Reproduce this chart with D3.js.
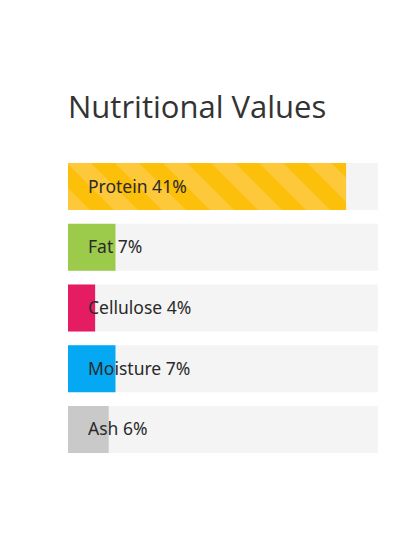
<!DOCTYPE html>
<html><head><meta charset="utf-8">
<script src="https://cdn.jsdelivr.net/npm/d3@7"></script>
<style>body{margin:0;background:#fff}</style>
</head><body>
<script>
const categories = ["Protein", "Fat", "Cellulose", "Moisture", "Ash"];
const values = [41, 7, 4, 7, 6];
const colors = ["#fcbf0a", "#9ccb4b", "#e61c62", "#05a8f2", "#c9c9c9"];
const title = "Nutritional Values";

const W = 420, H = 560;
const svg = d3.select("body").append("svg").attr("width", W).attr("height", H);

const defs = svg.append("defs");
const pat = defs.append("pattern").attr("id", "stripes").attr("patternUnits", "userSpaceOnUse")
  .attr("width", 34).attr("height", 34).attr("patternTransform", "rotate(-45)");
pat.append("rect").attr("width", 34).attr("height", 34).attr("fill", colors[0]);
pat.append("rect").attr("width", 17).attr("height", 34).attr("fill", "#fdc93a");

svg.append("text").attr("x", 68).attr("y", 118).text(title)
  .attr("font-family", "'Open Sans', sans-serif").attr("font-size", 31).attr("fill", "#333");

const x = d3.scaleLinear().domain([0, 45.7]).range([68, 378]);
const y = d3.scaleBand().domain(categories).range([163, 453]).paddingInner(0.226).paddingOuter(0);

const g = svg.append("g");
const rows = g.selectAll("g.row").data(categories).join("g").attr("class", "row");
rows.append("rect").attr("x", x(0)).attr("y", d => y(d)).attr("width", x.range()[1] - x(0))
  .attr("height", y.bandwidth()).attr("fill", "#f4f4f4");
rows.append("rect").attr("x", x(0)).attr("y", d => y(d))
  .attr("width", (d, i) => x(values[i]) - x(0)).attr("height", y.bandwidth())
  .attr("fill", (d, i) => i === 0 ? "url(#stripes)" : colors[i]);
rows.append("text").attr("x", 88).attr("y", d => y(d) + y.bandwidth() / 2 + 6)
  .text((d, i) => d + " " + values[i] + "%")
  .attr("font-family", "'Noto Sans', sans-serif").attr("font-size", 17.5).attr("fill", "#2a2a2a");
</script>
</body></html>
